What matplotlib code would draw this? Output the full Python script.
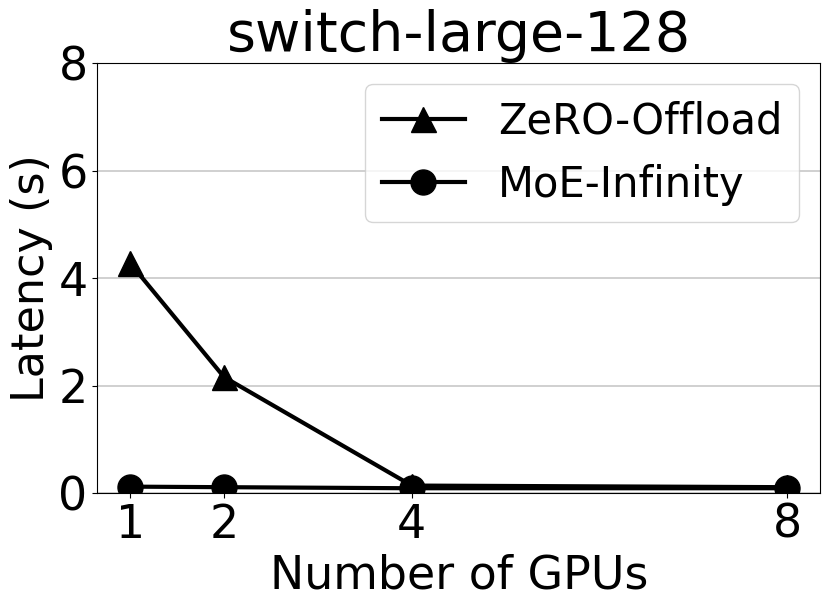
import matplotlib
matplotlib.use('Agg')
import matplotlib.pyplot as plt

# data
gpus = [1, 2, 4, 8]
zero_offload = [4.28, 2.16, 0.14, 0.11]
moe_infinity = [0.12, 0.11, 0.09, 0.09]

fig, ax = plt.subplots(figsize=(8.31, 6.08), dpi=100)

ax.plot(gpus, zero_offload, color='black', marker='^', markersize=18, linewidth=3, label='ZeRO-Offload')
ax.plot(gpus, moe_infinity, color='black', marker='o', markersize=18, linewidth=3, label='MoE-Infinity')

ax.set_title('switch-large-128', fontsize=40)
ax.set_xlabel('Number of GPUs', fontsize=33)
ax.set_ylabel('Latency (s)', fontsize=32)
ax.set_xticks(gpus)
ax.set_ylim(0, 8)
ax.set_yticks([0, 2, 4, 6, 8])
ax.tick_params(axis='both', labelsize=33)
ax.grid(axis='y', color='#c8c8c8', linewidth=1.2)
ax.set_axisbelow(True)
ax.legend(fontsize=30, loc='upper right')

plt.subplots_adjust(left=0.117, right=0.987, top=0.896, bottom=0.189)
plt.savefig('out.png', dpi=100)
